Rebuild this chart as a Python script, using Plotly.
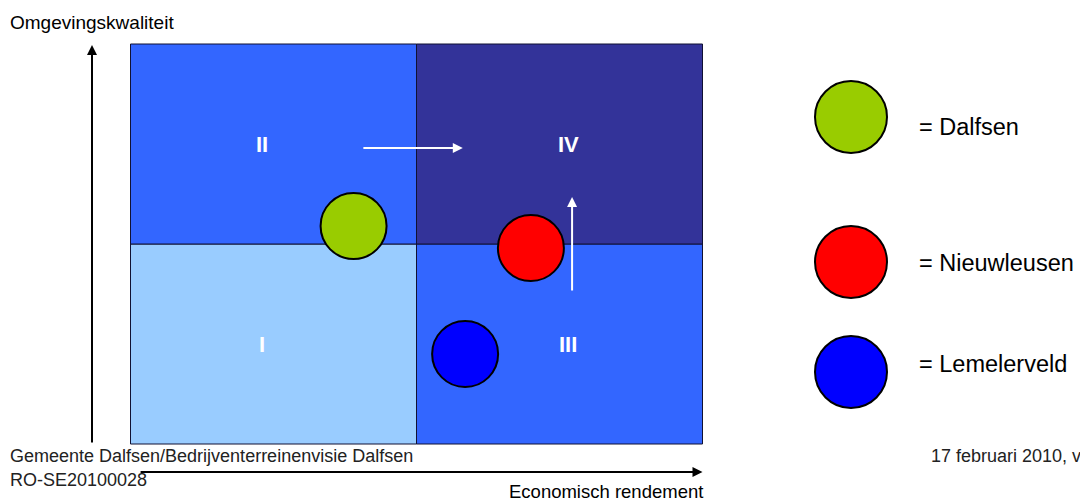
import plotly.graph_objects as go

# ---- data ----
places = ["Dalfsen", "Nieuwleusen", "Lemelerveld"]
economisch_rendement = [0.78, 1.40, 1.17]      # x (0..2, midpoint 1)
omgevingskwaliteit = [1.09, 0.98, 0.45]        # y (0..2, midpoint 1)
place_colors = ["#99CC00", "#FF0000", "#0000FF"]

quadrant_labels = ["I", "II", "III", "IV"]
quadrant_x = [0, 0, 1, 1]   # lower-left corner of each quadrant
quadrant_y = [0, 1, 0, 1]
quadrant_colors = ["#99CCFF", "#3366FF", "#3366FF", "#333399"]
label_x = [0.46, 0.46, 1.53, 1.53]
label_y = [0.50, 1.50, 0.50, 1.50]

x_title = "Economisch rendement"
y_title = "Omgevingskwaliteit"
footer_left = ["Gemeente Dalfsen/Bedrijventerreinenvisie Dalfsen", "RO-SE20100028"]
footer_right = "17 februari 2010, v"

FONT = "Liberation Sans, Arial, Helvetica, sans-serif"
W, H = 1080, 504

fig = go.Figure()

# quadrants
for qx, qy, qc in zip(quadrant_x, quadrant_y, quadrant_colors):
    fig.add_shape(type="rect", xref="x", yref="y", x0=qx, x1=qx + 1, y0=qy, y1=qy + 1,
                  fillcolor=qc, line=dict(color="#111133", width=1), layer="below")

for lab, lx, ly in zip(quadrant_labels, label_x, label_y):
    fig.add_annotation(x=lx, y=ly, xref="x", yref="y", text="<b>%s</b>" % lab, showarrow=False,
                       font=dict(family=FONT, size=22, color="white"))

# movement arrows (white)
fig.add_annotation(x=1.162, y=1.48, ax=0.809, ay=1.48, xref="x", yref="y", axref="x", ayref="y",
                   text="", showarrow=True, arrowhead=2, arrowsize=1, arrowwidth=2, arrowcolor="white")
fig.add_annotation(x=1.544, y=1.235, ax=1.544, ay=0.76, xref="x", yref="y", axref="x", ayref="y",
                   text="", showarrow=True, arrowhead=2, arrowsize=1, arrowwidth=2, arrowcolor="white")

# places
fig.add_trace(go.Scatter(x=economisch_rendement, y=omgevingskwaliteit, mode="markers",
                         text=places, hoverinfo="text",
                         marker=dict(size=66, color=place_colors, line=dict(color="black", width=2)),
                         showlegend=False))

# axis arrows (black)
fig.add_annotation(x=-0.1346, y=1.995, ax=-0.1346, ay=0.0, xref="x", yref="y", axref="x", ayref="y",
                   text="", showarrow=True, arrowhead=2, arrowsize=1, arrowwidth=2, arrowcolor="black")
fig.add_annotation(x=2.0, y=-0.14, ax=0.03, ay=-0.14, xref="x", yref="y", axref="x", ayref="y",
                   text="", showarrow=True, arrowhead=2, arrowsize=1, arrowwidth=2, arrowcolor="black")

# axis titles
fig.add_annotation(x=8 / W, y=1 - 23 / H, xref="paper", yref="paper", xanchor="left", yanchor="middle",
                   text=y_title, showarrow=False, font=dict(family=FONT, size=19, color="black"))
fig.add_annotation(x=705 / W, y=1 - 491 / H, xref="paper", yref="paper", xanchor="right", yanchor="middle",
                   text=x_title, showarrow=False, font=dict(family=FONT, size=18.5, color="black"))

# footers
fig.add_annotation(x=8 / W, y=1 - 456 / H, xref="paper", yref="paper", xanchor="left", yanchor="middle",
                   text=footer_left[0], showarrow=False, font=dict(family=FONT, size=18, color="#222222"))
fig.add_annotation(x=8 / W, y=1 - 480 / H, xref="paper", yref="paper", xanchor="left", yanchor="middle",
                   text=footer_left[1], showarrow=False, font=dict(family=FONT, size=18, color="#222222"))
fig.add_annotation(x=929 / W, y=1 - 456 / H, xref="paper", yref="paper", xanchor="left", yanchor="middle",
                   text=footer_right, showarrow=False, font=dict(family=FONT, size=18, color="#222222"))

# custom key
key_y = [117, 262, 372]
key_text_y = [127, 263, 364]
for name, col, ky, ty in zip(places, place_colors, key_y, key_text_y):
    fig.add_shape(type="circle", xref="paper", yref="paper", xsizemode="pixel", ysizemode="pixel",
                  xanchor=851 / W, yanchor=1 - ky / H, x0=-36, x1=36, y0=-36, y1=36,
                  fillcolor=col, line=dict(color="black", width=2), layer="above")
    fig.add_annotation(x=917 / W, y=1 - ty / H, xref="paper", yref="paper", xanchor="left",
                       yanchor="middle", text="= " + name, showarrow=False,
                       font=dict(family=FONT, size=23.5, color="black"))

px_per_x, x0_px = 286.0, 130.5
px_per_y, y0_px = 200.0, 444.0
fig.update_xaxes(range=[-x0_px / px_per_x, (W - x0_px) / px_per_x], visible=False, fixedrange=True)
fig.update_yaxes(range=[(y0_px - H) / px_per_y, y0_px / px_per_y], visible=False, fixedrange=True)
fig.update_layout(width=W, height=H, margin=dict(l=0, r=0, t=0, b=0),
                  plot_bgcolor="white", paper_bgcolor="white", showlegend=False)

fig.write_html("out.html")
